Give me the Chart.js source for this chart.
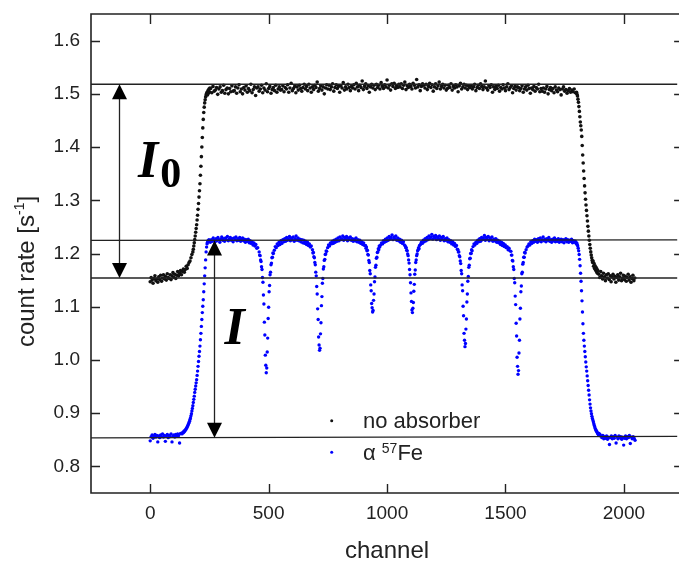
<!DOCTYPE html>
<html>
<head>
<meta charset="utf-8">
<script src="https://cdn.jsdelivr.net/npm/chart.js@4.4.1/dist/chart.umd.min.js"></script>
<style>
  html, body { margin: 0; padding: 0; background: #fff; overflow: hidden; width: 679px; height: 562px; }
  canvas { display: block; }
</style>
</head>
<body>
<canvas id="spectrum" width="679" height="562"></canvas>
<script>
/* Transmission spectrum: count rate per channel, with and without the alpha-57Fe absorber. */

const xTicks = [0, 500, 1000, 1500, 2000];
const yTicks = [0.8, 0.9, 1.0, 1.1, 1.2, 1.3, 1.4, 1.5, 1.6];
const xFrameEnd = 2250; // right frame sits just outside the cropped picture

// no absorber: segments of channels (start, step) and the count rates
const noAbsStarts = [0, 180, 255, 1800, 1894];
const noAbsSteps = [4, 2, 5, 2, 4];
const noAbsLow = [
  1.147, 1.155, 1.150, 1.144, 1.153, 1.158, 1.149, 1.152, 1.146, 1.156,
  1.151, 1.159, 1.148, 1.154, 1.160, 1.152, 1.157, 1.150, 1.162, 1.155,
  1.153, 1.160, 1.151, 1.158, 1.164, 1.155, 1.161, 1.153, 1.159, 1.166,
  1.158, 1.163, 1.168, 1.160, 1.166, 1.171, 1.165, 1.170, 1.176, 1.172,
  1.179, 1.183, 1.186, 1.192, 1.198];
const noAbsRise = [
  1.203, 1.208, 1.214, 1.220, 1.226, 1.233, 1.240, 1.247, 1.254, 1.263,
  1.272, 1.283, 1.294, 1.306, 1.318, 1.331, 1.347, 1.364, 1.382, 1.400,
  1.418, 1.436, 1.452, 1.465, 1.475, 1.483, 1.489, 1.494, 1.498, 1.500,
  1.503, 1.498, 1.506, 1.501, 1.509, 1.504, 1.511];
const noAbsTop = [
  1.510, 1.502, 1.514, 1.505, 1.507, 1.512, 1.499, 1.509, 1.513, 1.503, 1.506, 1.516, 1.501, 1.508, 1.511, 1.500, 1.510, 1.504, 1.515, 1.505,
  1.506, 1.513, 1.501, 1.511, 1.517, 1.504, 1.509, 1.500, 1.512, 1.507, 1.515, 1.503, 1.510, 1.506, 1.518, 1.502, 1.508, 1.513, 1.497, 1.511,
  1.513, 1.505, 1.509, 1.516, 1.502, 1.511, 1.507, 1.519, 1.504, 1.510, 1.514, 1.501, 1.508, 1.512, 1.506, 1.516, 1.503, 1.509, 1.513, 1.507,
  1.508, 1.515, 1.504, 1.512, 1.509, 1.517, 1.503, 1.511, 1.520, 1.506, 1.510, 1.514, 1.502, 1.513, 1.507, 1.516, 1.510, 1.505, 1.512, 1.518,
  1.509, 1.514, 1.506, 1.518, 1.511, 1.503, 1.513, 1.508, 1.516, 1.512, 1.522, 1.505, 1.510, 1.515, 1.507, 1.513, 1.500, 1.511, 1.517, 1.509,
  1.516, 1.508, 1.513, 1.519, 1.505, 1.512, 1.517, 1.510, 1.514, 1.503, 1.515, 1.511, 1.521, 1.507, 1.513, 1.509, 1.518, 1.512, 1.506, 1.514,
  1.511, 1.517, 1.509, 1.520, 1.513, 1.506, 1.516, 1.512, 1.524, 1.508, 1.514, 1.519, 1.510, 1.515, 1.503, 1.513, 1.518, 1.511, 1.516, 1.508,
  1.518, 1.512, 1.516, 1.509, 1.521, 1.514, 1.510, 1.517, 1.513, 1.526, 1.511, 1.516, 1.507, 1.519, 1.514, 1.520, 1.510, 1.515, 1.512, 1.518,
  1.513, 1.519, 1.510, 1.516, 1.522, 1.508, 1.515, 1.512, 1.518, 1.514, 1.509, 1.520, 1.516, 1.511, 1.527, 1.513, 1.517, 1.506, 1.514, 1.519,
  1.516, 1.511, 1.518, 1.508, 1.514, 1.520, 1.512, 1.517, 1.505, 1.513, 1.519, 1.510, 1.515, 1.522, 1.509, 1.514, 1.518, 1.511, 1.516, 1.507,
  1.510, 1.516, 1.512, 1.519, 1.507, 1.514, 1.511, 1.517, 1.513, 1.504, 1.515, 1.520, 1.509, 1.513, 1.518, 1.511, 1.516, 1.508, 1.514, 1.512,
  1.515, 1.509, 1.513, 1.518, 1.506, 1.512, 1.516, 1.510, 1.519, 1.514, 1.508, 1.513, 1.524, 1.511, 1.507, 1.515, 1.512, 1.517, 1.503, 1.513,
  1.508, 1.514, 1.510, 1.516, 1.505, 1.512, 1.509, 1.517, 1.511, 1.506, 1.513, 1.519, 1.508, 1.512, 1.515, 1.502, 1.510, 1.514, 1.507, 1.513,
  1.512, 1.506, 1.510, 1.515, 1.503, 1.509, 1.513, 1.507, 1.516, 1.510, 1.501, 1.511, 1.508, 1.514, 1.505, 1.512, 1.509, 1.518, 1.504, 1.510,
  1.505, 1.511, 1.503, 1.509, 1.514, 1.500, 1.508, 1.512, 1.506, 1.510, 1.502, 1.513, 1.507, 1.504, 1.511, 1.508, 1.498, 1.509, 1.513, 1.505,
  1.508, 1.501, 1.506, 1.510, 1.503, 1.507, 1.504, 1.509, 1.502];
const noAbsFall = [
  1.503, 1.499, 1.496, 1.490, 1.484, 1.476, 1.467, 1.457, 1.447, 1.440,
  1.432, 1.420, 1.403, 1.385, 1.370, 1.355, 1.341, 1.327, 1.314, 1.302,
  1.291, 1.281, 1.271, 1.261, 1.251, 1.242, 1.233, 1.225, 1.217, 1.210,
  1.203, 1.197, 1.192, 1.187, 1.183, 1.186, 1.176, 1.181, 1.172, 1.177,
  1.169, 1.174, 1.166, 1.171, 1.163, 1.168];
const noAbsTail = [
  1.161, 1.155, 1.166, 1.158, 1.152, 1.163, 1.156, 1.149, 1.160, 1.154,
  1.162, 1.151, 1.158, 1.147, 1.156, 1.161, 1.152, 1.157, 1.146, 1.155,
  1.160, 1.150, 1.156, 1.163, 1.149, 1.154, 1.159, 1.151, 1.157, 1.148,
  1.155, 1.161, 1.150, 1.156, 1.146, 1.153, 1.159, 1.149, 1.154];

// alpha-57Fe absorber: six-line pattern
const feStarts = [0, 132, 254, 460, 524, 685, 749, 909, 973, 1077, 1141, 1299, 1363, 1523, 1587, 1801, 1903];
const feSteps = [4, 2, 4, 2, 4, 2, 4, 2, 4, 2, 4, 2, 4, 2, 4, 2, 4];
const feLow = [
  0.848, 0.856, 0.859, 0.853, 0.857, 0.860, 0.855, 0.858, 0.846, 0.857,
  0.854, 0.859, 0.856, 0.861, 0.855, 0.858, 0.847, 0.857, 0.860, 0.854,
  0.858, 0.856, 0.861, 0.846, 0.857, 0.859, 0.855, 0.860, 0.857, 0.861,
  0.858, 0.844, 0.862];
const feRise = [
  0.862, 0.861, 0.863, 0.864, 0.863, 0.866, 0.865, 0.867, 0.868, 0.869,
  0.871, 0.872, 0.874, 0.876, 0.878, 0.880, 0.882, 0.885, 0.888, 0.891,
  0.895, 0.899, 0.904, 0.909, 0.914, 0.920, 0.926, 0.932, 0.939, 0.945,
  0.951, 0.957, 0.963, 0.971, 0.979, 0.988, 0.997, 1.007, 1.016, 1.026,
  1.038, 1.050, 1.063, 1.076, 1.089, 1.101, 1.113, 1.128, 1.143, 1.158,
  1.173, 1.188, 1.203, 1.212, 1.218, 1.221, 1.224, 1.222, 1.226, 1.223];
const fePlateau1 = [
  1.221, 1.226, 1.223, 1.229, 1.225, 1.222, 1.228, 1.224, 1.230, 1.226,
  1.221, 1.227, 1.231, 1.225, 1.228, 1.223, 1.229, 1.226, 1.232, 1.224,
  1.227, 1.230, 1.225, 1.228, 1.222, 1.229, 1.226, 1.231, 1.224, 1.228,
  1.225, 1.230, 1.223, 1.227, 1.229, 1.224, 1.227, 1.221, 1.226, 1.223,
  1.227, 1.220, 1.224, 1.219, 1.222, 1.216, 1.220, 1.214, 1.217, 1.210,
  1.211];
const feDip1 = [
  1.203, 1.197, 1.196, 1.188, 1.185, 1.175, 1.170, 1.155, 1.146, 1.122,
  1.105, 1.071, 1.047, 1.009, 0.990, 0.976, 0.985, 1.015, 1.041, 1.078,
  1.099, 1.128, 1.140, 1.160, 1.165, 1.179, 1.182, 1.192, 1.193, 1.201,
  1.200];
const fePlateau2 = [
  1.206, 1.213, 1.211, 1.218, 1.215, 1.221, 1.217, 1.224, 1.219, 1.226,
  1.222, 1.228, 1.223, 1.230, 1.225, 1.227, 1.232, 1.224, 1.229, 1.226,
  1.231, 1.223, 1.228, 1.233, 1.225, 1.229, 1.224, 1.227, 1.222, 1.226,
  1.220, 1.225, 1.219, 1.223, 1.217, 1.221, 1.215, 1.218, 1.212, 1.214];
const feDip2 = [
  1.207, 1.201, 1.202, 1.194, 1.192, 1.183, 1.179, 1.165, 1.158, 1.138,
  1.124, 1.096, 1.076, 1.043, 1.028, 1.018, 1.022, 1.049, 1.070, 1.102,
  1.119, 1.144, 1.153, 1.171, 1.175, 1.187, 1.189, 1.198, 1.199, 1.205,
  1.204];
const fePlateau3 = [
  1.211, 1.216, 1.214, 1.220, 1.218, 1.223, 1.219, 1.225, 1.221, 1.227,
  1.223, 1.229, 1.224, 1.231, 1.226, 1.228, 1.233, 1.225, 1.230, 1.227,
  1.232, 1.224, 1.229, 1.226, 1.231, 1.225, 1.228, 1.223, 1.227, 1.224,
  1.229, 1.222, 1.226, 1.221, 1.225, 1.219, 1.222, 1.217, 1.220, 1.215];
const feDip3 = [
  1.215, 1.210, 1.212, 1.205, 1.206, 1.198, 1.197, 1.187, 1.183, 1.168,
  1.162, 1.141, 1.130, 1.106, 1.098, 1.090, 1.093, 1.112, 1.124, 1.147,
  1.156, 1.174, 1.178, 1.191, 1.193, 1.202, 1.203, 1.209, 1.207, 1.214,
  1.212];
const fePlateau4 = [
  1.216, 1.220, 1.218, 1.224, 1.221, 1.227, 1.223, 1.229, 1.225, 1.232,
  1.227, 1.230, 1.235, 1.226, 1.231, 1.228, 1.233, 1.225, 1.229, 1.224,
  1.227, 1.221, 1.225, 1.219, 1.222, 1.216];
const feDip4 = [
  1.214, 1.211, 1.211, 1.206, 1.205, 1.199, 1.196, 1.188, 1.182, 1.170,
  1.160, 1.145, 1.126, 1.110, 1.094, 1.089, 1.097, 1.108, 1.129, 1.142,
  1.161, 1.169, 1.183, 1.188, 1.196, 1.199, 1.205, 1.207, 1.211, 1.209,
  1.215];
const fePlateau5 = [
  1.217, 1.221, 1.219, 1.225, 1.222, 1.228, 1.224, 1.230, 1.226, 1.233,
  1.228, 1.231, 1.236, 1.227, 1.232, 1.229, 1.234, 1.226, 1.231, 1.228,
  1.233, 1.225, 1.230, 1.227, 1.232, 1.224, 1.228, 1.225, 1.229, 1.222,
  1.226, 1.221, 1.224, 1.218, 1.222, 1.216, 1.219, 1.213, 1.215, 1.208];
const feDip5 = [
  1.207, 1.203, 1.203, 1.196, 1.194, 1.186, 1.181, 1.168, 1.162, 1.141,
  1.130, 1.101, 1.083, 1.050, 1.037, 1.025, 1.031, 1.058, 1.077, 1.109,
  1.124, 1.148, 1.157, 1.174, 1.178, 1.190, 1.191, 1.200, 1.200, 1.207,
  1.205];
const fePlateau6 = [
  1.213, 1.218, 1.216, 1.221, 1.219, 1.225, 1.222, 1.228, 1.223, 1.230,
  1.226, 1.229, 1.234, 1.225, 1.230, 1.227, 1.232, 1.224, 1.229, 1.226,
  1.231, 1.223, 1.227, 1.224, 1.228, 1.221, 1.225, 1.220, 1.223, 1.217,
  1.221, 1.215, 1.219, 1.213, 1.216, 1.211, 1.213, 1.207, 1.210, 1.205];
const feDip6 = [
  1.204, 1.197, 1.197, 1.187, 1.186, 1.175, 1.170, 1.153, 1.145, 1.120,
  1.104, 1.069, 1.045, 1.005, 0.988, 0.973, 0.980, 1.013, 1.037, 1.077,
  1.097, 1.128, 1.139, 1.162, 1.165, 1.180, 1.183, 1.193, 1.193, 1.202,
  1.201];
const fePlateau7 = [
  1.207, 1.212, 1.214, 1.218, 1.216, 1.222, 1.219, 1.224, 1.221, 1.227,
  1.223, 1.226, 1.221, 1.228, 1.224, 1.229, 1.222, 1.226, 1.231, 1.224,
  1.227, 1.222, 1.228, 1.225, 1.230, 1.223, 1.226, 1.221, 1.227, 1.224,
  1.229, 1.222, 1.226, 1.223, 1.228, 1.221, 1.225, 1.227, 1.222, 1.226,
  1.220, 1.225, 1.228, 1.222, 1.226, 1.221, 1.225, 1.223, 1.227, 1.220,
  1.224, 1.221, 1.223, 1.218];
const feFall = [
  1.220, 1.217, 1.214, 1.210, 1.205, 1.198, 1.189, 1.177, 1.163, 1.148,
  1.130, 1.111, 1.090, 1.068, 1.050, 1.037, 1.026, 1.016, 1.006, 0.996,
  0.987, 0.979, 0.970, 0.961, 0.952, 0.943, 0.934, 0.925, 0.917, 0.910,
  0.904, 0.899, 0.894, 0.890, 0.887, 0.884, 0.880, 0.877, 0.874, 0.871,
  0.869, 0.867, 0.866, 0.864, 0.862, 0.861, 0.859, 0.862, 0.858, 0.860];
const feTail = [
  0.857, 0.854, 0.858, 0.852, 0.856, 0.853, 0.857, 0.851, 0.855, 0.841,
  0.854, 0.857, 0.852, 0.856, 0.853, 0.858, 0.844, 0.855, 0.852, 0.857,
  0.854, 0.856, 0.851, 0.855, 0.840, 0.853, 0.857, 0.852, 0.856, 0.854,
  0.858, 0.843, 0.855, 0.852, 0.856, 0.853, 0.849];

// horizontal guide lines (rate at left and right end) and the I0 / I arrows
const guideEnds = [-250, 2250];
const guideLeft = [1.518, 1.2245, 1.154, 0.8535];
const guideRight = [1.518, 1.2255, 1.154, 0.8565];
const arrowChannels = [-133, 270];
const arrowTops = [1.518, 1.2245];
const arrowBottoms = [1.154, 0.854];
const arrowLabels = ['I', 'I'];
const arrowSubs = ['0', ''];
const labelChannels = [-52, 314];
const labelRates = [1.3445, 1.030];

const FONT = '"Liberation Sans", Arial, sans-serif';
const SERIF = '"Liberation Serif", "Times New Roman", serif';
const INK = '#222';

function toPoints(starts, steps, segments) {
  return segments.flatMap((rates, k) => rates.map((r, i) => ({ x: starts[k] + i * steps[k], y: r })));
}

const noAbsPoints = toPoints(noAbsStarts, noAbsSteps, [noAbsLow, noAbsRise, noAbsTop, noAbsFall, noAbsTail]);
const fePoints = toPoints(feStarts, feSteps, [
  feLow, feRise, fePlateau1, feDip1, fePlateau2, feDip2, fePlateau3, feDip3, fePlateau4,
  feDip4, fePlateau5, feDip5, fePlateau6, feDip6, fePlateau7, feFall, feTail]);

const guideSets = guideLeft.map((l, i) => ({
  data: [{ x: guideEnds[0], y: l }, { x: guideEnds[1], y: guideRight[i] }],
  showLine: true,
  borderColor: INK,
  borderWidth: 1.3,
  pointRadius: 0,
}));

const framePlugin = {
  id: 'frame',
  afterDatasetsDraw(chart) {
    const { ctx, scales: { x, y } } = chart;
    ctx.save();
    ctx.strokeStyle = INK;
    ctx.fillStyle = '#000';
    ctx.lineWidth = 1.3;

    // double-headed arrows
    arrowChannels.forEach((ch, i) => {
      const px = Math.round(x.getPixelForValue(ch)) + 0.5;
      const top = y.getPixelForValue(arrowTops[i]);
      const bot = y.getPixelForValue(arrowBottoms[i]);
      ctx.beginPath();
      ctx.moveTo(px, top + 8);
      ctx.lineTo(px, bot - 8);
      ctx.stroke();
      ctx.beginPath();
      ctx.moveTo(px, top); ctx.lineTo(px - 7.5, top + 15); ctx.lineTo(px + 7.5, top + 15);
      ctx.closePath(); ctx.fill();
      ctx.beginPath();
      ctx.moveTo(px, bot); ctx.lineTo(px - 7.5, bot - 15); ctx.lineTo(px + 7.5, bot - 15);
      ctx.closePath(); ctx.fill();

      const lx = x.getPixelForValue(labelChannels[i]);
      const ly = y.getPixelForValue(labelRates[i]);
      ctx.textAlign = 'left';
      ctx.textBaseline = 'alphabetic';
      ctx.font = 'italic bold 52px ' + SERIF;
      ctx.fillText(arrowLabels[i], lx, ly);
      if (arrowSubs[i]) {
        const w = ctx.measureText(arrowLabels[i]).width;
        ctx.font = 'bold 42px ' + SERIF;
        ctx.fillText(arrowSubs[i], lx + w + 2, ly + 10);
      }
    });
    ctx.restore();
  },
  afterDraw(chart) {
    const { ctx, chartArea: a, scales: { x, y } } = chart;
    const right = x.getPixelForValue(xFrameEnd);
    ctx.save();
    ctx.strokeStyle = INK;
    ctx.lineWidth = 1.6;
    ctx.beginPath();
    ctx.moveTo(right, a.top); ctx.lineTo(a.left, a.top);
    ctx.lineTo(a.left, a.bottom); ctx.lineTo(right, a.bottom);
    ctx.stroke();

    // inward ticks on all four sides
    ctx.lineWidth = 1.4;
    ctx.beginPath();
    xTicks.forEach(v => {
      const px = Math.round(x.getPixelForValue(v)) + 0.5;
      ctx.moveTo(px, a.bottom); ctx.lineTo(px, a.bottom - 9);
      ctx.moveTo(px, a.top); ctx.lineTo(px, a.top + 10);
    });
    yTicks.forEach(v => {
      const py = Math.round(y.getPixelForValue(v)) + 0.5;
      ctx.moveTo(a.left, py); ctx.lineTo(a.left + 9, py);
      ctx.moveTo(right, py); ctx.lineTo(right - 9, py);
    });
    ctx.stroke();

    ctx.fillStyle = INK;
    ctx.textBaseline = 'alphabetic';

    // x axis title, centred on the full (uncropped) frame
    ctx.textAlign = 'center';
    ctx.font = '24px ' + FONT;
    ctx.fillText('channel', (a.left + right) / 2, 558);

    // y axis title with superscript
    ctx.textAlign = 'left';
    const main = 'count rate [s', sup = '-1', close = ']';
    ctx.font = '24px ' + FONT;
    const w1 = ctx.measureText(main).width, w3 = ctx.measureText(close).width;
    ctx.font = '14px ' + FONT;
    const w2 = ctx.measureText(sup).width;
    const total = w1 + w2 + w3;
    ctx.translate(33.5, (a.top + a.bottom) / 2 + 18);
    ctx.rotate(-Math.PI / 2);
    ctx.font = '24px ' + FONT;
    ctx.fillText(main, -total / 2, 0);
    ctx.font = '14px ' + FONT;
    ctx.fillText(sup, -total / 2 + w1, -10);
    ctx.font = '24px ' + FONT;
    ctx.fillText(close, -total / 2 + w1 + w2, 0);
    ctx.setTransform(1, 0, 0, 1, 0, 0);

    // legend
    const dotX = a.left + 240.7;
    const rows = [a.top + 406.7, a.top + 438.3];
    const colors = ['#111', '#0000ff'];
    rows.forEach((ry, i) => {
      ctx.fillStyle = colors[i];
      ctx.beginPath();
      ctx.arc(dotX, ry, 1.5, 0, Math.PI * 2);
      ctx.fill();
    });
    ctx.fillStyle = INK;
    const tx = a.left + 272;
    ctx.font = '22px ' + FONT;
    ctx.fillText('no absorber', tx, a.top + 414.3);
    ctx.fillText('α ', tx, a.top + 446);
    let cx = tx + ctx.measureText('α ').width;
    ctx.font = '14px ' + FONT;
    ctx.fillText('57', cx, a.top + 439);
    cx += ctx.measureText('57').width;
    ctx.font = '22px ' + FONT;
    ctx.fillText('Fe', cx, a.top + 446);
    ctx.restore();
  },
};

new Chart(document.getElementById('spectrum'), {
  type: 'scatter',
  data: {
    datasets: [
      ...guideSets,
      {
        label: 'no absorber',
        data: noAbsPoints,
        backgroundColor: '#111',
        pointRadius: 1.8,
        pointBorderWidth: 0,
        pointHoverRadius: 0,
      },
      {
        label: 'α 57Fe',
        data: fePoints,
        backgroundColor: '#0000ff',
        pointRadius: 1.7,
        pointBorderWidth: 0,
        pointHoverRadius: 0,
      },
    ],
  },
  options: {
    responsive: false,
    devicePixelRatio: 1,
    animation: false,
    events: [],
    layout: { padding: { top: 14, right: 0, left: 0, bottom: 0 } },
    plugins: { legend: { display: false }, tooltip: { enabled: false } },
    scales: {
      x: {
        type: 'linear',
        min: -250,
        max: 2225,
        afterBuildTicks: s => { s.ticks = xTicks.map(v => ({ value: v })); },
        afterFit: s => { s.height = 69; s.paddingLeft = 0; s.paddingRight = 0; },
        grid: { display: false, drawTicks: false },
        border: { display: false },
        ticks: { color: INK, font: { family: FONT, size: 19 }, padding: 9, maxRotation: 0, callback: v => String(v) },
      },
      y: {
        type: 'linear',
        min: 0.75,
        max: 1.65,
        afterBuildTicks: s => { s.ticks = yTicks.map(v => ({ value: v })); },
        afterFit: s => { s.width = 91; s.paddingTop = 0; s.paddingBottom = 0; },
        grid: { display: false, drawTicks: false },
        border: { display: false },
        ticks: { color: INK, font: { family: FONT, size: 19 }, padding: 11, callback: v => v.toFixed(1) },
      },
    },
  },
  plugins: [framePlugin],
});
</script>
</body>
</html>
